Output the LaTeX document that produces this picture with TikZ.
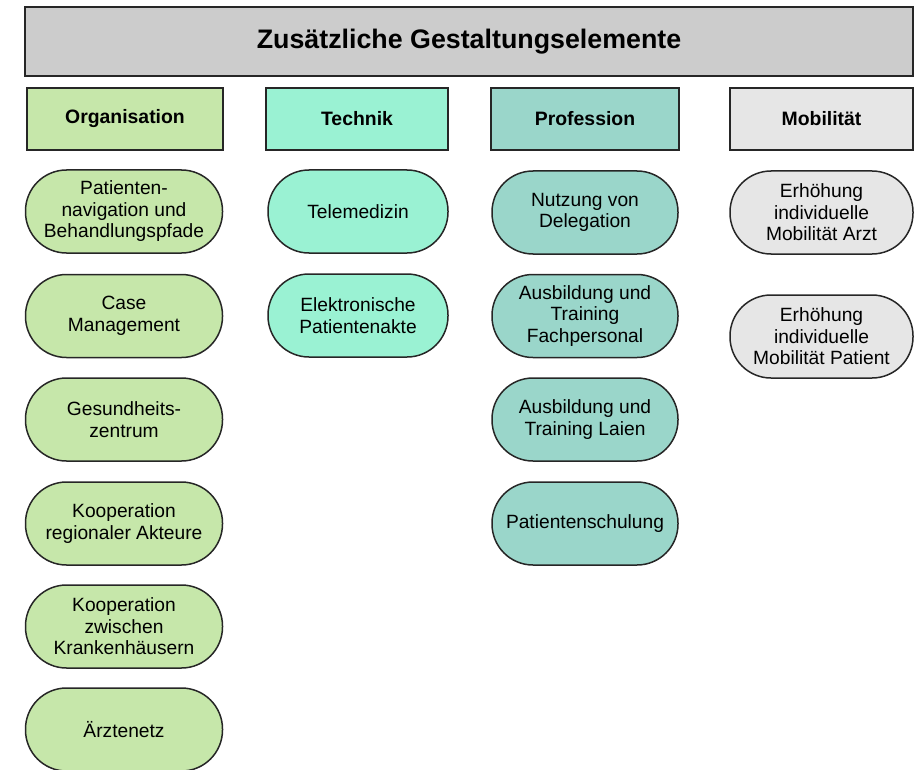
\documentclass[tikz,border=0pt]{standalone}
\usepackage{fontspec}
\setmainfont{Liberation Sans}
\definecolor{titlegray}{HTML}{CCCCCC}
\definecolor{orggreen}{HTML}{C6E7AA}
\definecolor{techmint}{HTML}{9AF2D3}
\definecolor{proteal}{HTML}{9AD6CA}
\definecolor{mobgray}{HTML}{E6E6E6}
\definecolor{edgegray}{HTML}{262626}
\tikzset{
  titlebox/.style={draw=edgegray, line width=1.5pt, fill=titlegray, minimum width=888pt, minimum height=69pt, inner sep=0pt, font=\fontsize{26.8}{32}\selectfont\bfseries},
  headbox/.style={draw=edgegray, line width=1.5pt, minimum height=62pt, inner sep=0pt, font=\fontsize{19.4}{23}\selectfont\bfseries},
  itembox/.style={draw=edgegray, line width=1.5pt, rounded corners=41pt, minimum height=83pt, inner sep=0pt, align=center, font=\fontsize{19.2}{21.5}\selectfont}
}
\begin{document}
\begin{tikzpicture}[x=1pt,y=-1pt]
            \useasboundingbox (0,0) rectangle (920,770);
            \clip (0,0) rectangle (920,770);

            \node[titlebox] (title) at (469,41.5) {Zusätzliche Gestaltungselemente};

            \node[headbox, fill=orggreen, minimum width=196pt] (organisation) at (125,119) {Organisation};
            \node[headbox, fill=techmint, minimum width=182pt] (technik) at (357,119) {Technik};
            \node[headbox, fill=proteal, minimum width=188pt] (profession) at (585,119) {Profession};
            \node[headbox, fill=mobgray, minimum width=183pt] (mobilitaet) at (821.5,119) {Mobilität};

            \node[itembox, fill=orggreen, minimum width=197pt] (navigation) at (124,211.5) {Patienten-\\navigation und\\Behandlungspfade};
            \node[itembox, fill=orggreen, minimum width=197pt] (casemgmt) at (124,316) {Case\\Management};
            \node[itembox, fill=orggreen, minimum width=197pt] (zentrum) at (124,419.5) {Gesundheits-\\zentrum};
            \node[itembox, fill=orggreen, minimum width=197pt] (regional) at (124,523.5) {Kooperation\\regionaler Akteure};
            \node[itembox, fill=orggreen, minimum width=197pt] (kliniken) at (124,626.5) {Kooperation\\zwischen\\Krankenhäusern};
            \node[itembox, fill=orggreen, minimum width=197pt] (aerztenetz) at (124,729.5) {Ärztenetz};

            \node[itembox, fill=techmint, minimum width=180pt] (telemedizin) at (358,211.5) {Telemedizin};
            \node[itembox, fill=techmint, minimum width=180pt] (akte) at (358,315.5) {Elektronische\\Patientenakte};

            \node[itembox, fill=proteal, minimum width=186pt] (delegation) at (585,212.5) {Nutzung von\\Delegation};
            \node[itembox, fill=proteal, minimum width=186pt] (fachpersonal) at (585,316) {Ausbildung und\\Training\\Fachpersonal};
            \node[itembox, fill=proteal, minimum width=186pt] (laien) at (585,419.5) {Ausbildung und\\Training Laien};
            \node[itembox, fill=proteal, minimum width=186pt] (schulung) at (585,523.5) {Patientenschulung};

            \node[itembox, fill=mobgray, minimum width=183pt] (arzt) at (821.5,212.5) {Erhöhung\\individuelle\\Mobilität Arzt};
            \node[itembox, fill=mobgray, minimum width=183pt] (patient) at (821.5,336.5) {Erhöhung\\individuelle\\Mobilität Patient};
        \end{tikzpicture}
\end{document}
